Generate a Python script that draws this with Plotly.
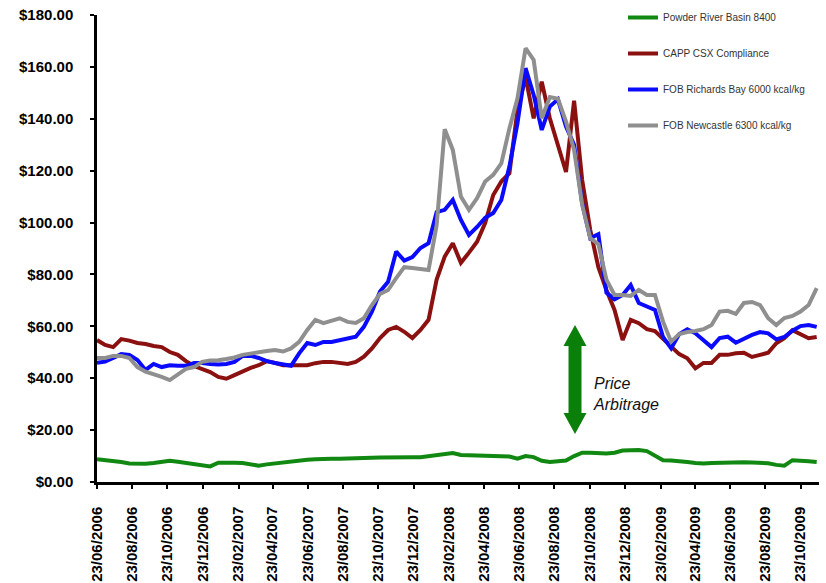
import plotly.graph_objects as go

# ---------------- data ----------------
dates = [
    "2006-06-23", "2006-07-07", "2006-07-21", "2006-08-04", "2006-08-18", "2006-09-01",
    "2006-09-15", "2006-09-29", "2006-10-13", "2006-10-27", "2006-11-10", "2006-11-24",
    "2006-12-08", "2006-12-22", "2007-01-05", "2007-01-19", "2007-02-02", "2007-02-16",
    "2007-03-02", "2007-03-16", "2007-03-30", "2007-04-13", "2007-04-27", "2007-05-11",
    "2007-05-25", "2007-06-08", "2007-06-22", "2007-07-06", "2007-07-20", "2007-08-03",
    "2007-08-17", "2007-08-31", "2007-09-14", "2007-09-28", "2007-10-12", "2007-10-26",
    "2007-11-09", "2007-11-23", "2007-12-07", "2007-12-21", "2008-01-04", "2008-01-18",
    "2008-02-01", "2008-02-15", "2008-02-29", "2008-03-14", "2008-03-28", "2008-04-11",
    "2008-04-25", "2008-05-09", "2008-05-23", "2008-06-06", "2008-06-20", "2008-07-04",
    "2008-07-18", "2008-08-01", "2008-08-15", "2008-08-29", "2008-09-12", "2008-09-26",
    "2008-10-10", "2008-10-24", "2008-11-07", "2008-11-21", "2008-12-05", "2008-12-19",
    "2009-01-02", "2009-01-16", "2009-01-30", "2009-02-13", "2009-02-27", "2009-03-13",
    "2009-03-27", "2009-04-10", "2009-04-24", "2009-05-08", "2009-05-22", "2009-06-05",
    "2009-06-19", "2009-07-03", "2009-07-17", "2009-07-31", "2009-08-14", "2009-08-28",
    "2009-09-11", "2009-09-25", "2009-10-09", "2009-10-23", "2009-11-06", "2009-11-20",
]

powder_river = [
    8.8, 8.5, 8.1, 7.7, 7.1, 7.0, 7.0, 7.3, 7.8, 8.2,
    7.8, 7.4, 6.9, 6.5, 6.0, 7.4, 7.5, 7.4, 7.3, 6.8,
    6.3, 6.8, 7.2, 7.6, 8.0, 8.4, 8.6, 8.8, 9.0, 9.0,
    9.0, 9.0, 9.1, 9.2, 9.3, 9.4, 9.5, 9.6, 9.6, 9.5,
    9.5, 9.9, 10.4, 10.9, 11.2, 10.4, 10.3, 10.1, 10.0, 10.0,
    10.0, 9.8, 9.0, 10.0, 9.6, 8.2, 7.7, 8.0, 8.3, 10.0,
    11.3, 11.3, 11.2, 11.0, 11.3, 12.1, 12.2, 12.3, 11.9, 10.2,
    8.4, 8.3, 8.1, 7.7, 7.3, 7.1, 7.3, 7.4, 7.6, 7.6,
    7.6, 7.5, 7.4, 7.2, 6.6, 6.3, 8.4, 8.3, 8.0, 7.7,
]

capp_csx = [
    54.7, 52.8, 52.0, 55.1, 54.5, 53.6, 53.2, 52.4, 52.0, 50.1,
    49.0, 46.6, 44.7, 43.6, 42.4, 40.5, 39.8, 41.2, 42.8, 44.0,
    45.0, 46.6, 45.9, 45.0, 45.0, 45.0, 45.0, 45.8, 46.3, 46.3,
    45.8, 45.5, 46.3, 48.3, 51.5, 55.5, 58.6, 59.8, 57.9, 55.5,
    58.6, 62.5, 78.0, 86.9, 92.0, 84.5, 88.4, 92.6, 99.8, 110.6,
    115.8, 119.0, 143.4, 156.1, 140.2, 154.3, 140.2, 129.3, 119.5, 147.0,
    116.4, 97.1, 82.8, 74.0, 66.3, 54.7, 62.5, 61.2, 58.9, 58.2,
    55.0, 52.2, 49.3, 47.7, 43.8, 45.9, 45.9, 49.0, 49.0, 49.6,
    49.8, 48.2, 49.0, 49.8, 53.5, 55.4, 58.5, 57.0, 55.4, 55.9,
]

richards_bay = [
    46.0, 46.4, 47.8, 49.3, 49.0, 47.0, 43.2, 45.5, 44.3, 45.0,
    44.8, 44.8, 45.9, 45.9, 45.5, 45.3, 45.5, 46.3, 48.6, 48.6,
    47.8, 46.6, 45.9, 45.5, 44.8, 49.6, 53.6, 52.8, 54.0, 54.0,
    54.7, 55.5, 56.0, 59.8, 65.7, 73.4, 77.2, 88.8, 85.3, 86.7,
    90.2, 92.0, 104.0, 104.9, 108.7, 101.0, 95.2, 98.3, 101.8, 103.7,
    108.7, 121.6, 138.3, 159.5, 149.2, 135.7, 144.7, 147.5, 137.0, 130.0,
    107.4, 94.0, 95.5, 73.0, 70.4, 72.1, 75.9, 69.0, 67.8, 66.3,
    55.9, 51.5, 57.0, 58.9, 57.3, 54.7, 52.0, 55.5, 56.0, 53.7,
    55.4, 56.7, 57.8, 57.3, 55.0, 55.9, 58.3, 60.1, 60.5, 59.8,
]

newcastle = [
    47.8, 47.8, 48.6, 48.6, 47.8, 44.3, 42.5, 41.6, 40.5, 39.3,
    41.5, 43.6, 44.3, 46.3, 46.8, 46.9, 47.4, 48.0, 49.0, 49.6,
    50.1, 50.5, 50.9, 50.3, 51.5, 54.0, 58.6, 62.5, 61.2, 62.0,
    63.1, 61.7, 61.3, 63.1, 68.2, 72.5, 74.0, 78.6, 82.8, 82.5,
    82.0, 81.7, 99.0, 136.0, 128.0, 110.0, 104.9, 109.4, 115.8, 118.4,
    122.8, 136.3, 147.9, 167.2, 162.7, 140.2, 148.4, 147.7, 138.9, 128.0,
    106.8, 94.0, 91.7, 78.0, 72.1, 72.1, 71.7, 74.0, 72.1, 72.1,
    61.8, 54.1, 57.0, 57.8, 58.2, 58.9, 60.5, 65.7, 66.0, 64.8,
    69.0, 69.4, 68.2, 63.1, 60.5, 63.2, 64.0, 65.7, 68.2, 74.7,
]

series_names = [
    "Powder River Basin 8400",
    "CAPP CSX Compliance",
    "FOB Richards Bay 6000 kcal/kg",
    "FOB Newcastle 6300 kcal/kg",
]
series_colors = ["#118811", "#8b1111", "#0a0aff", "#8f8f8f"]

tick_dates = [
    "2006-06-23", "2006-08-23", "2006-10-23", "2006-12-23", "2007-02-23", "2007-04-23",
    "2007-06-23", "2007-08-23", "2007-10-23", "2007-12-23", "2008-02-23", "2008-04-23",
    "2008-06-23", "2008-08-23", "2008-10-23", "2008-12-23", "2009-02-23", "2009-04-23",
    "2009-06-23", "2009-08-23", "2009-10-23",
]
tick_text = [
    "23/06/2006", "23/08/2006", "23/10/2006", "23/12/2006", "23/02/2007", "23/04/2007",
    "23/06/2007", "23/08/2007", "23/10/2007", "23/12/2007", "23/02/2008", "23/04/2008",
    "23/06/2008", "23/08/2008", "23/10/2008", "23/12/2008", "23/02/2009", "23/04/2009",
    "23/06/2009", "23/08/2009", "23/10/2009",
]

# ---------------- figure ----------------
W, H = 826, 583
ML, MR, MT, MB = 97, 7, 15, 101
PW, PH = W - ML - MR, H - MT - MB

fig = go.Figure()
for name, vals, color in zip(series_names,
                             [powder_river, capp_csx, richards_bay, newcastle],
                             series_colors):
    fig.add_trace(go.Scatter(
        x=dates, y=vals, mode="lines", name=name, legendgroup=name,
        line=dict(color=color, width=4),
    ))

tickfont = dict(family="Liberation Sans, Arial, sans-serif", size=15,
                color="black", weight="bold")

fig.update_layout(
    width=W, height=H,
    margin=dict(l=ML, r=MR, t=MT, b=MB, pad=0, autoexpand=False),
    paper_bgcolor="white", plot_bgcolor="white",
    showlegend=True,
    legend=dict(
        x=(623 - ML) / PW, xanchor="left",
        y=1 + 12 / PH, yanchor="top",
        font=dict(family="Liberation Sans, Arial, sans-serif", size=10, color="#333333"),
        bgcolor="rgba(0,0,0,0)",
        tracegroupgap=17,
        traceorder="grouped",
    ),
    xaxis=dict(
        type="date",
        range=["2006-06-23", "2009-11-24"],
        tickmode="array", tickvals=tick_dates, ticktext=tick_text,
        tickangle=-90, tickfont=tickfont,
        showline=True, linecolor="black", linewidth=2.5,
        ticks="outside", ticklen=4, tickwidth=2, tickcolor="black",
        showgrid=False, zeroline=False,
        ticklabelstandoff=12,
    ),
    yaxis=dict(
        range=[0, 180], dtick=20, tick0=0,
        tickprefix="$", tickformat=".2f", tickfont=tickfont,
        showline=True, linecolor="black", linewidth=2.5,
        ticks="outside", ticklen=4, tickwidth=2, tickcolor="black",
        showgrid=False, zeroline=False,
        ticklabelstandoff=14,
    ),
)

# double-headed "price arbitrage" arrow (decoration, in paper coordinates)
def px_to_paper(px, py):
    return (px - ML) / PW, (H - MB - py) / PH

ax, top, bot = 575, 325, 434
hw_shaft, hw_head, head_h = 6.5, 11.5, 21
pts = [
    (ax, top), (ax + hw_head, top + head_h), (ax + hw_shaft, top + head_h),
    (ax + hw_shaft, bot - head_h), (ax + hw_head, bot - head_h), (ax, bot),
    (ax - hw_head, bot - head_h), (ax - hw_shaft, bot - head_h),
    (ax - hw_shaft, top + head_h), (ax - hw_head, top + head_h),
]
path = "M " + " L ".join("%.5f,%.5f" % px_to_paper(px, py) for px, py in pts) + " Z"
fig.add_shape(type="path", xref="paper", yref="paper", path=path,
              fillcolor="#0a800a", line=dict(width=0))

tx, ty = px_to_paper(591, 394)
fig.add_annotation(
    xref="paper", yref="paper", x=tx, y=ty, xanchor="left", yanchor="middle",
    text="<i>Price<br>Arbitrage</i>", showarrow=False, align="left",
    font=dict(family="Liberation Sans, Arial, sans-serif", size=16, color="#111111"),
)

fig.write_html("out.html")
